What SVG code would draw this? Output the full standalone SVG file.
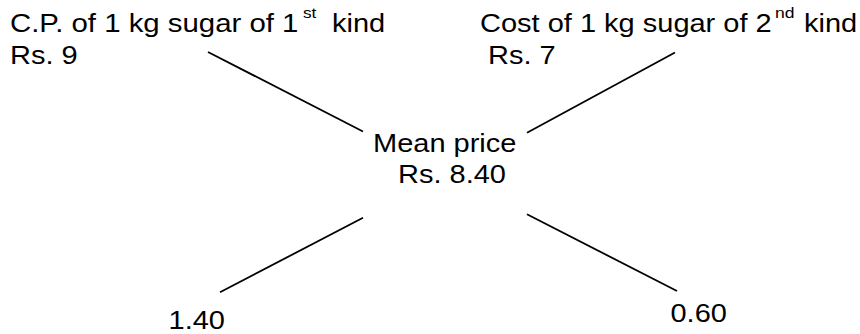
<svg xmlns="http://www.w3.org/2000/svg" width="860" height="334" viewBox="0 0 860 334">
<style>
text{font-family:"Liberation Sans",Arial,sans-serif;font-size:26px;fill:#000}
.sup{font-size:15px}
.c line{stroke:#000;stroke-width:1.8;fill:none}
</style>
<rect width="860" height="334" fill="#fff"/>
<g id="kind1">
<text x="10" y="31.7" textLength="288.4" lengthAdjust="spacingAndGlyphs">C.P. of 1 kg sugar of 1</text>
<text class="sup" x="303" y="17.5" textLength="13.4" lengthAdjust="spacingAndGlyphs">st</text>
<text x="332" y="31.7" textLength="53.2" lengthAdjust="spacingAndGlyphs">kind</text>
<text x="10" y="64.3" textLength="67.7" lengthAdjust="spacingAndGlyphs">Rs. 9</text>
</g>
<g id="kind2">
<text x="480" y="31.7" textLength="291.7" lengthAdjust="spacingAndGlyphs">Cost of 1 kg sugar of 2</text>
<text class="sup" x="775" y="17.5" textLength="19.5" lengthAdjust="spacingAndGlyphs">nd</text>
<text x="804" y="31.7" textLength="53.2" lengthAdjust="spacingAndGlyphs">kind</text>
<text x="488" y="64.3" textLength="67.7" lengthAdjust="spacingAndGlyphs">Rs. 7</text>
</g>
<g id="mean">
<text x="373" y="151.7" textLength="143.4" lengthAdjust="spacingAndGlyphs">Mean price</text>
<text x="398" y="183.3" textLength="108" lengthAdjust="spacingAndGlyphs">Rs. 8.40</text>
</g>
<g id="diff1">
<text x="168.6" y="329" textLength="56.4" lengthAdjust="spacingAndGlyphs">1.40</text>
</g>
<g id="diff2">
<text x="670.5" y="322.3" textLength="56.4" lengthAdjust="spacingAndGlyphs">0.60</text>
</g>
<g id="connectors" class="c">
<line x1="208" y1="52" x2="363" y2="131.5"/>
<line x1="675" y1="52.5" x2="527" y2="132.8"/>
<line x1="363" y1="217.7" x2="220" y2="292.3"/>
<line x1="527" y1="214.3" x2="677" y2="291"/>
</g>
</svg>
